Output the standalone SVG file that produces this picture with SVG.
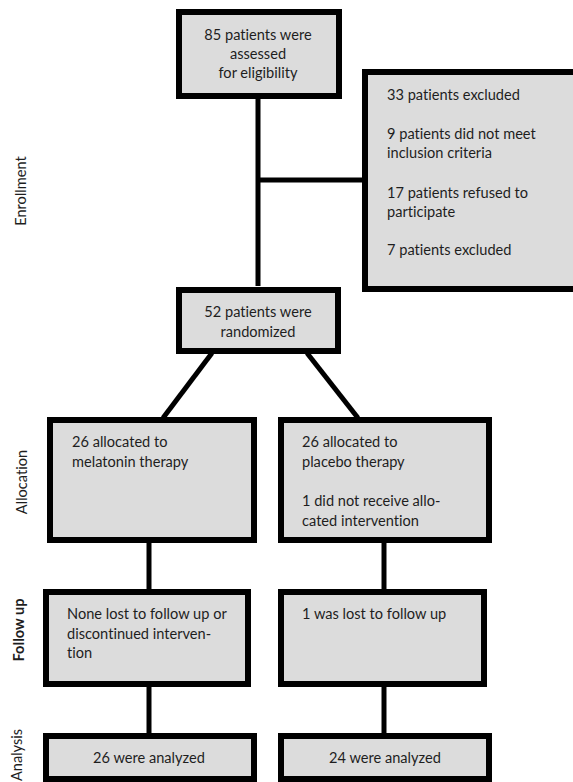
<svg xmlns="http://www.w3.org/2000/svg" width="573" height="782" viewBox="0 0 573 782">
<style>
.box{fill:#dcdcdc;stroke:#000;stroke-width:6}
.ln{stroke:#000;stroke-width:5;fill:none}
text{font-family:Lato,"Open Sans",sans-serif;font-size:14.6px;fill:#1e1e1e;font-variant-ligatures:none}
.c{text-anchor:middle}
.side{text-anchor:middle;font-size:14.6px}
.bold{font-weight:bold}
</style>
<rect width="573" height="782" fill="#fff"/>
<g id="connectors">
<line class="ln" x1="258" y1="99" x2="258" y2="286"/>
<line class="ln" x1="258" y1="180" x2="363" y2="180"/>
<line class="ln" x1="212" y1="353" x2="163" y2="418"/>
<line class="ln" x1="307" y1="353" x2="358" y2="418"/>
<line class="ln" x1="149" y1="542" x2="149" y2="590"/>
<line class="ln" x1="384" y1="542" x2="384" y2="590"/>
<line class="ln" x1="149" y1="686" x2="149" y2="734"/>
<line class="ln" x1="384" y1="686" x2="384" y2="734"/>
</g>
<g id="labels">
<text class="side" transform="translate(26,191) rotate(-90)">Enrollment</text>
<text class="side" transform="translate(27,482) rotate(-90)">Allocation</text>
<text class="side bold" transform="translate(24,630) rotate(-90)">Follow up</text>
<text class="side" transform="translate(22,755) rotate(-90)">Analysis</text>
</g>
<g id="assessed">
<rect class="box" x="179" y="12" width="160" height="84"/>
<text class="c" x="258" y="40">85 patients were</text>
<text class="c" x="258" y="59">assessed</text>
<text class="c" x="258" y="78">for eligibility</text>
</g>
<g id="excluded">
<rect class="box" x="365" y="72" width="220" height="217"/>
<text x="387" y="100">33 patients excluded</text>
<text x="387" y="139">9 patients did not meet</text>
<text x="387" y="158">inclusion criteria</text>
<text x="387" y="198">17 patients refused to</text>
<text x="387" y="217">participate</text>
<text x="387" y="255">7 patients excluded</text>
</g>
<g id="randomized">
<rect class="box" x="179" y="290" width="159" height="61"/>
<text class="c" x="258" y="317">52 patients were</text>
<text class="c" x="258" y="337">randomized</text>
</g>
<g id="alloc-melatonin">
<rect class="box" x="50" y="420" width="204" height="120"/>
<text x="72" y="447">26 allocated to</text>
<text x="72" y="467">melatonin therapy</text>
</g>
<g id="alloc-placebo">
<rect class="box" x="281" y="420" width="208" height="120"/>
<text x="302" y="447">26 allocated to</text>
<text x="302" y="467">placebo therapy</text>
<text x="302" y="506">1 did not receive allo-</text>
<text x="302" y="526">cated intervention</text>
</g>
<g id="follow-melatonin">
<rect class="box" x="46" y="592" width="202" height="92"/>
<text x="67" y="619">None lost to follow up or</text>
<text x="67" y="639">discontinued interven-</text>
<text x="67" y="658">tion</text>
</g>
<g id="follow-placebo">
<rect class="box" x="281" y="592" width="203" height="92"/>
<text x="302" y="619">1 was lost to follow up</text>
</g>
<g id="analysis-melatonin">
<rect class="box" x="46" y="736" width="208" height="43"/>
<text class="c" x="149" y="763">26 were analyzed</text>
</g>
<g id="analysis-placebo">
<rect class="box" x="281" y="736" width="208" height="43"/>
<text class="c" x="385" y="763">24 were analyzed</text>
</g>
</svg>
